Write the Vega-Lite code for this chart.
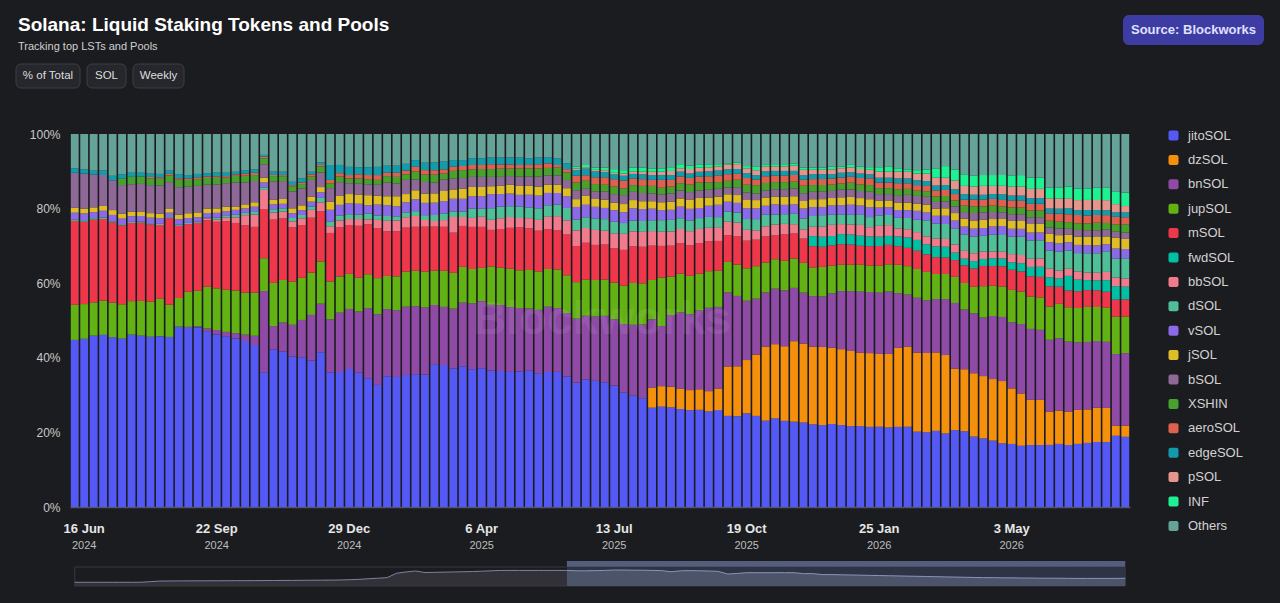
{
  "$schema": "https://vega.github.io/schema/vega-lite/v6.json",
  "width": 1060,
  "height": 373,
  "autosize": {"type": "none"},
  "padding": {"left": 70, "top": 134, "right": 150, "bottom": 96},
  "background": "#1b1c20",
  "title": {
    "text": "Solana: Liquid Staking Tokens and Pools",
    "subtitle": "Tracking top LSTs and Pools",
    "anchor": "start",
    "frame": "group",
    "dx": -52,
    "offset": -37,
    "fontSize": 19,
    "fontWeight": "bold",
    "color": "#ffffff",
    "subtitleFontSize": 11,
    "subtitleColor": "#cfcfcf",
    "subtitlePadding": 6
  },
  "datasets": {
    "seriesOrder": [
      {"series": "jitoSOL", "rank": 1}, {"series": "dzSOL", "rank": 2}, {"series": "bnSOL", "rank": 3},
      {"series": "jupSOL", "rank": 4}, {"series": "mSOL", "rank": 5}, {"series": "fwdSOL", "rank": 6},
      {"series": "bbSOL", "rank": 7}, {"series": "dSOL", "rank": 8}, {"series": "vSOL", "rank": 9},
      {"series": "jSOL", "rank": 10}, {"series": "bSOL", "rank": 11}, {"series": "XSHIN", "rank": 12},
      {"series": "aeroSOL", "rank": 13}, {"series": "edgeSOL", "rank": 14}, {"series": "pSOL", "rank": 15},
      {"series": "INF", "rank": 16}, {"series": "Others", "rank": 17}
    ],
    "weeks": [
      {"week":"2024-06-09","jitoSOL":44.8,"dzSOL":0,"bnSOL":0,"jupSOL":9.4,"mSOL":22.5,"fwdSOL":0,"bbSOL":0,"dSOL":0.4,"vSOL":1.8,"jSOL":1.3,"bSOL":9.4,"XSHIN":0,"aeroSOL":0,"edgeSOL":1.2,"pSOL":0,"INF":0,"Others":9.2,"total":19.5},
      {"week":"2024-06-16","jitoSOL":45.1,"dzSOL":0,"bnSOL":0,"jupSOL":9.3,"mSOL":22.1,"fwdSOL":0,"bbSOL":0,"dSOL":0.4,"vSOL":1.8,"jSOL":1.3,"bSOL":9.4,"XSHIN":0,"aeroSOL":0,"edgeSOL":1.1,"pSOL":0,"INF":0,"Others":9.5,"total":19.5},
      {"week":"2024-06-23","jitoSOL":45.8,"dzSOL":0,"bnSOL":0,"jupSOL":8.9,"mSOL":22.1,"fwdSOL":0,"bbSOL":0,"dSOL":0.4,"vSOL":1.6,"jSOL":1.3,"bSOL":8.8,"XSHIN":0,"aeroSOL":0,"edgeSOL":1.0,"pSOL":0,"INF":0,"Others":9.8,"total":19.5},
      {"week":"2024-06-30","jitoSOL":46.2,"dzSOL":0,"bnSOL":0,"jupSOL":9.2,"mSOL":21.9,"fwdSOL":0,"bbSOL":0,"dSOL":0.4,"vSOL":1.8,"jSOL":1.3,"bSOL":8.3,"XSHIN":0,"aeroSOL":0,"edgeSOL":1.2,"pSOL":0,"INF":0,"Others":9.8,"total":19.6},
      {"week":"2024-07-07","jitoSOL":45.5,"dzSOL":0,"bnSOL":0,"jupSOL":9.3,"mSOL":21.5,"fwdSOL":0,"bbSOL":0,"dSOL":0.3,"vSOL":1.7,"jSOL":1.3,"bSOL":8.0,"XSHIN":0,"aeroSOL":0,"edgeSOL":1.2,"pSOL":0,"INF":0,"Others":11.2,"total":19.6},
      {"week":"2024-07-14","jitoSOL":45.2,"dzSOL":0,"bnSOL":0,"jupSOL":9.2,"mSOL":21.2,"fwdSOL":0,"bbSOL":0,"dSOL":0.3,"vSOL":1.5,"jSOL":1.3,"bSOL":7.7,"XSHIN":1.8,"aeroSOL":0,"edgeSOL":1.1,"pSOL":0,"INF":0,"Others":10.8,"total":19.7},
      {"week":"2024-07-21","jitoSOL":46.3,"dzSOL":0,"bnSOL":0,"jupSOL":9.0,"mSOL":21.0,"fwdSOL":0,"bbSOL":0,"dSOL":0.3,"vSOL":1.5,"jSOL":1.2,"bSOL":7.4,"XSHIN":2.0,"aeroSOL":0,"edgeSOL":1.1,"pSOL":0,"INF":0,"Others":10.4,"total":19.7},
      {"week":"2024-07-28","jitoSOL":46.0,"dzSOL":0,"bnSOL":0,"jupSOL":9.3,"mSOL":21.0,"fwdSOL":0,"bbSOL":0,"dSOL":0.3,"vSOL":1.5,"jSOL":1.2,"bSOL":7.4,"XSHIN":2.0,"aeroSOL":0,"edgeSOL":1.0,"pSOL":0,"INF":0,"Others":10.4,"total":19.8},
      {"week":"2024-08-04","jitoSOL":45.6,"dzSOL":0,"bnSOL":0,"jupSOL":9.4,"mSOL":20.7,"fwdSOL":0,"bbSOL":0,"dSOL":0.3,"vSOL":1.5,"jSOL":1.2,"bSOL":7.5,"XSHIN":1.8,"aeroSOL":0.4,"edgeSOL":0.9,"pSOL":0,"INF":0,"Others":10.6,"total":23},
      {"week":"2024-08-11","jitoSOL":45.8,"dzSOL":0,"bnSOL":0,"jupSOL":10.0,"mSOL":19.8,"fwdSOL":0,"bbSOL":0,"dSOL":0.3,"vSOL":1.5,"jSOL":1.2,"bSOL":7.6,"XSHIN":1.8,"aeroSOL":0.4,"edgeSOL":0.9,"pSOL":0,"INF":0,"Others":10.7,"total":26},
      {"week":"2024-08-18","jitoSOL":45.6,"dzSOL":0,"bnSOL":0,"jupSOL":8.6,"mSOL":23.2,"fwdSOL":0,"bbSOL":0,"dSOL":0.3,"vSOL":1.2,"jSOL":1.0,"bSOL":7.2,"XSHIN":1.8,"aeroSOL":0.4,"edgeSOL":0.9,"pSOL":0,"INF":0,"Others":9.8,"total":26.5},
      {"week":"2024-08-25","jitoSOL":48.5,"dzSOL":0,"bnSOL":0,"jupSOL":7.7,"mSOL":19.4,"fwdSOL":0,"bbSOL":0,"dSOL":0.3,"vSOL":1.5,"jSOL":1.2,"bSOL":7.4,"XSHIN":2.0,"aeroSOL":0.4,"edgeSOL":1.1,"pSOL":0,"INF":0,"Others":10.8,"total":26.7},
      {"week":"2024-09-01","jitoSOL":47.9,"dzSOL":0,"bnSOL":0.3,"jupSOL":9.4,"mSOL":18.1,"fwdSOL":0,"bbSOL":0,"dSOL":0.3,"vSOL":1.3,"jSOL":1.3,"bSOL":7.1,"XSHIN":1.8,"aeroSOL":0.4,"edgeSOL":0.9,"pSOL":0,"INF":0,"Others":11.0,"total":27},
      {"week":"2024-09-08","jitoSOL":48.1,"dzSOL":0,"bnSOL":0.3,"jupSOL":9.5,"mSOL":18.2,"fwdSOL":0,"bbSOL":0,"dSOL":0.3,"vSOL":1.2,"jSOL":1.3,"bSOL":7.1,"XSHIN":1.8,"aeroSOL":0.5,"edgeSOL":0.9,"pSOL":0,"INF":0,"Others":10.7,"total":27.2},
      {"week":"2024-09-15","jitoSOL":47.0,"dzSOL":0,"bnSOL":0.9,"jupSOL":11.2,"mSOL":17.9,"fwdSOL":0,"bbSOL":0.4,"dSOL":0.3,"vSOL":1.2,"jSOL":1.2,"bSOL":6.4,"XSHIN":1.8,"aeroSOL":0.4,"edgeSOL":0.9,"pSOL":0,"INF":0,"Others":10.5,"total":27.4},
      {"week":"2024-09-22","jitoSOL":46.4,"dzSOL":0,"bnSOL":1.2,"jupSOL":11.2,"mSOL":17.9,"fwdSOL":0,"bbSOL":0.6,"dSOL":0.5,"vSOL":1.3,"jSOL":1.2,"bSOL":6.4,"XSHIN":1.8,"aeroSOL":0.4,"edgeSOL":1.0,"pSOL":0,"INF":0,"Others":10.4,"total":27.5},
      {"week":"2024-09-29","jitoSOL":45.8,"dzSOL":0,"bnSOL":1.2,"jupSOL":11.3,"mSOL":18.4,"fwdSOL":0,"bbSOL":1.0,"dSOL":0.6,"vSOL":1.1,"jSOL":1.2,"bSOL":6.3,"XSHIN":1.5,"aeroSOL":0.4,"edgeSOL":0.9,"pSOL":0,"INF":0,"Others":10.4,"total":27.7},
      {"week":"2024-10-06","jitoSOL":45.1,"dzSOL":0,"bnSOL":1.4,"jupSOL":11.4,"mSOL":18.1,"fwdSOL":0,"bbSOL":1.5,"dSOL":0.7,"vSOL":1.3,"jSOL":0.9,"bSOL":6.4,"XSHIN":1.8,"aeroSOL":0.4,"edgeSOL":0.7,"pSOL":0,"INF":0,"Others":10.1,"total":27.9},
      {"week":"2024-10-13","jitoSOL":44.6,"dzSOL":0,"bnSOL":1.7,"jupSOL":11.3,"mSOL":18.1,"fwdSOL":0,"bbSOL":2.7,"dSOL":0.6,"vSOL":1.2,"jSOL":1.1,"bSOL":5.9,"XSHIN":1.8,"aeroSOL":0.6,"edgeSOL":0.9,"pSOL":0,"INF":0,"Others":9.7,"total":28},
      {"week":"2024-10-20","jitoSOL":43.4,"dzSOL":0,"bnSOL":2.5,"jupSOL":11.6,"mSOL":17.6,"fwdSOL":0,"bbSOL":3.3,"dSOL":0.9,"vSOL":1.2,"jSOL":1.2,"bSOL":5.7,"XSHIN":1.6,"aeroSOL":0.6,"edgeSOL":0.9,"pSOL":0,"INF":0,"Others":9.5,"total":28.3},
      {"week":"2024-10-27","jitoSOL":36.1,"dzSOL":0,"bnSOL":21.8,"jupSOL":8.8,"mSOL":13.2,"fwdSOL":0,"bbSOL":5.1,"dSOL":0.7,"vSOL":1.3,"jSOL":1.3,"bSOL":3.6,"XSHIN":1.6,"aeroSOL":0.4,"edgeSOL":0.5,"pSOL":0,"INF":0,"Others":5.6,"total":28.6},
      {"week":"2024-11-03","jitoSOL":42.3,"dzSOL":0,"bnSOL":6.3,"jupSOL":11.6,"mSOL":17.0,"fwdSOL":0,"bbSOL":1.9,"dSOL":0.9,"vSOL":1.3,"jSOL":1.2,"bSOL":4.9,"XSHIN":1.5,"aeroSOL":0.3,"edgeSOL":0.9,"pSOL":0,"INF":0,"Others":10.1,"total":29},
      {"week":"2024-11-10","jitoSOL":41.6,"dzSOL":0,"bnSOL":7.8,"jupSOL":11.4,"mSOL":16.5,"fwdSOL":0,"bbSOL":1.8,"dSOL":0.9,"vSOL":1.2,"jSOL":1.3,"bSOL":4.8,"XSHIN":1.3,"aeroSOL":0.3,"edgeSOL":0.9,"pSOL":0,"INF":0,"Others":10.1,"total":29.3},
      {"week":"2024-11-17","jitoSOL":40.3,"dzSOL":0,"bnSOL":8.5,"jupSOL":11.6,"mSOL":14.5,"fwdSOL":0,"bbSOL":1.6,"dSOL":0.9,"vSOL":1.3,"jSOL":1.3,"bSOL":4.5,"XSHIN":1.3,"aeroSOL":0.4,"edgeSOL":0.9,"pSOL":0,"INF":0,"Others":12.8,"total":29.6},
      {"week":"2024-11-24","jitoSOL":40.1,"dzSOL":0,"bnSOL":10.0,"jupSOL":11.3,"mSOL":14.1,"fwdSOL":0,"bbSOL":1.8,"dSOL":0.9,"vSOL":1.3,"jSOL":1.3,"bSOL":4.5,"XSHIN":1.2,"aeroSOL":0.4,"edgeSOL":1.1,"pSOL":0,"INF":0,"Others":11.9,"total":30},
      {"week":"2024-12-01","jitoSOL":39.2,"dzSOL":0,"bnSOL":12.2,"jupSOL":11.3,"mSOL":14.7,"fwdSOL":0,"bbSOL":2.1,"dSOL":0.9,"vSOL":1.3,"jSOL":1.3,"bSOL":4.5,"XSHIN":0.9,"aeroSOL":0.6,"edgeSOL":0.7,"pSOL":0,"INF":0,"Others":10.1,"total":30.3},
      {"week":"2024-12-08","jitoSOL":41.4,"dzSOL":0,"bnSOL":13.0,"jupSOL":11.3,"mSOL":13.4,"fwdSOL":0,"bbSOL":2.4,"dSOL":1.2,"vSOL":1.5,"jSOL":1.4,"bSOL":3.9,"XSHIN":1.6,"aeroSOL":0.4,"edgeSOL":0.7,"pSOL":0,"INF":0,"Others":7.6,"total":30.6},
      {"week":"2024-12-15","jitoSOL":36.1,"dzSOL":0,"bnSOL":14.2,"jupSOL":10.1,"mSOL":13.0,"fwdSOL":0,"bbSOL":1.8,"dSOL":1.3,"vSOL":3.1,"jSOL":2.2,"bSOL":3.6,"XSHIN":1.3,"aeroSOL":0.9,"edgeSOL":4.0,"pSOL":0,"INF":0,"Others":8.3,"total":31},
      {"week":"2024-12-22","jitoSOL":36.2,"dzSOL":0,"bnSOL":15.9,"jupSOL":9.7,"mSOL":13.2,"fwdSOL":0,"bbSOL":1.8,"dSOL":1.3,"vSOL":2.9,"jSOL":2.4,"bSOL":3.7,"XSHIN":1.5,"aeroSOL":0.9,"edgeSOL":2.2,"pSOL":0,"INF":0,"Others":8.3,"total":31.6},
      {"week":"2024-12-29","jitoSOL":37.0,"dzSOL":0,"bnSOL":16.1,"jupSOL":9.4,"mSOL":13.1,"fwdSOL":0,"bbSOL":1.6,"dSOL":1.3,"vSOL":2.9,"jSOL":2.5,"bSOL":2.9,"XSHIN":1.3,"aeroSOL":0.9,"edgeSOL":2.2,"pSOL":0,"INF":0,"Others":8.8,"total":33},
      {"week":"2025-01-05","jitoSOL":36.0,"dzSOL":0,"bnSOL":16.4,"jupSOL":9.1,"mSOL":13.9,"fwdSOL":0,"bbSOL":1.8,"dSOL":1.2,"vSOL":2.9,"jSOL":2.4,"bSOL":3.1,"XSHIN":1.3,"aeroSOL":1.1,"edgeSOL":1.9,"pSOL":0,"INF":0,"Others":8.9,"total":35},
      {"week":"2025-01-12","jitoSOL":34.5,"dzSOL":0,"bnSOL":18.8,"jupSOL":9.1,"mSOL":13.4,"fwdSOL":0,"bbSOL":1.3,"dSOL":1.6,"vSOL":2.2,"jSOL":2.7,"bSOL":2.9,"XSHIN":1.4,"aeroSOL":1.1,"edgeSOL":2.1,"pSOL":0,"INF":0,"Others":8.9,"total":38},
      {"week":"2025-01-19","jitoSOL":32.7,"dzSOL":0,"bnSOL":18.9,"jupSOL":9.7,"mSOL":13.4,"fwdSOL":0,"bbSOL":2.2,"dSOL":1.2,"vSOL":2.9,"jSOL":2.4,"bSOL":2.9,"XSHIN":1.3,"aeroSOL":1.3,"edgeSOL":2.2,"pSOL":0,"INF":0,"Others":8.8,"total":41},
      {"week":"2025-01-26","jitoSOL":35.1,"dzSOL":0,"bnSOL":18.0,"jupSOL":8.9,"mSOL":12.0,"fwdSOL":0,"bbSOL":2.8,"dSOL":1.3,"vSOL":2.9,"jSOL":2.4,"bSOL":3.7,"XSHIN":1.7,"aeroSOL":0.9,"edgeSOL":1.9,"pSOL":0,"INF":0,"Others":8.5,"total":44},
      {"week":"2025-02-02","jitoSOL":34.9,"dzSOL":0,"bnSOL":17.9,"jupSOL":9.1,"mSOL":12.1,"fwdSOL":0,"bbSOL":2.9,"dSOL":1.1,"vSOL":2.7,"jSOL":2.7,"bSOL":3.4,"XSHIN":1.8,"aeroSOL":1.1,"edgeSOL":1.9,"pSOL":0,"INF":0,"Others":8.5,"total":67},
      {"week":"2025-02-09","jitoSOL":35.4,"dzSOL":0,"bnSOL":18.3,"jupSOL":9.4,"mSOL":11.8,"fwdSOL":0,"bbSOL":2.8,"dSOL":1.3,"vSOL":2.7,"jSOL":2.2,"bSOL":3.8,"XSHIN":1.5,"aeroSOL":1.0,"edgeSOL":1.8,"pSOL":0,"INF":0,"Others":8.0,"total":74},
      {"week":"2025-02-16","jitoSOL":35.6,"dzSOL":0,"bnSOL":18.3,"jupSOL":9.5,"mSOL":11.8,"fwdSOL":0,"bbSOL":2.9,"dSOL":1.3,"vSOL":3.2,"jSOL":2.4,"bSOL":2.9,"XSHIN":2.1,"aeroSOL":1.3,"edgeSOL":1.8,"pSOL":0,"INF":0,"Others":7.0,"total":79},
      {"week":"2025-02-23","jitoSOL":35.6,"dzSOL":0,"bnSOL":18.0,"jupSOL":9.6,"mSOL":12.1,"fwdSOL":0,"bbSOL":1.8,"dSOL":1.3,"vSOL":3.3,"jSOL":2.5,"bSOL":3.1,"XSHIN":2.0,"aeroSOL":1.2,"edgeSOL":2.0,"pSOL":0,"INF":0,"Others":7.7,"total":71},
      {"week":"2025-03-02","jitoSOL":38.2,"dzSOL":0,"bnSOL":15.9,"jupSOL":9.2,"mSOL":11.8,"fwdSOL":0,"bbSOL":1.5,"dSOL":1.6,"vSOL":3.3,"jSOL":2.5,"bSOL":2.9,"XSHIN":2.1,"aeroSOL":1.2,"edgeSOL":2.1,"pSOL":0,"INF":0,"Others":7.6,"total":72},
      {"week":"2025-03-09","jitoSOL":38.1,"dzSOL":0,"bnSOL":15.6,"jupSOL":9.7,"mSOL":11.8,"fwdSOL":0,"bbSOL":1.8,"dSOL":1.8,"vSOL":3.3,"jSOL":2.7,"bSOL":3.1,"XSHIN":1.6,"aeroSOL":1.1,"edgeSOL":2.1,"pSOL":0,"INF":0,"Others":7.4,"total":73},
      {"week":"2025-03-16","jitoSOL":37.2,"dzSOL":0,"bnSOL":16.1,"jupSOL":9.6,"mSOL":10.8,"fwdSOL":0,"bbSOL":4.2,"dSOL":1.5,"vSOL":3.4,"jSOL":2.5,"bSOL":2.9,"XSHIN":2.1,"aeroSOL":1.1,"edgeSOL":1.8,"pSOL":0,"INF":0,"Others":7.0,"total":74},
      {"week":"2025-03-23","jitoSOL":37.8,"dzSOL":0,"bnSOL":17.1,"jupSOL":9.6,"mSOL":11.0,"fwdSOL":0,"bbSOL":2.4,"dSOL":1.5,"vSOL":3.4,"jSOL":2.7,"bSOL":2.9,"XSHIN":2.1,"aeroSOL":1.1,"edgeSOL":1.6,"pSOL":0,"INF":0,"Others":7.0,"total":75},
      {"week":"2025-03-30","jitoSOL":36.9,"dzSOL":0,"bnSOL":17.7,"jupSOL":9.2,"mSOL":11.3,"fwdSOL":0,"bbSOL":2.4,"dSOL":2.5,"vSOL":3.3,"jSOL":2.5,"bSOL":2.7,"XSHIN":2.0,"aeroSOL":1.2,"edgeSOL":1.8,"pSOL":0,"INF":0,"Others":6.5,"total":76},
      {"week":"2025-04-06","jitoSOL":37.2,"dzSOL":0,"bnSOL":18.0,"jupSOL":8.9,"mSOL":11.0,"fwdSOL":0,"bbSOL":2.7,"dSOL":2.2,"vSOL":3.3,"jSOL":2.5,"bSOL":2.7,"XSHIN":2.1,"aeroSOL":1.1,"edgeSOL":1.8,"pSOL":0,"INF":0,"Others":6.5,"total":78},
      {"week":"2025-04-13","jitoSOL":36.6,"dzSOL":0,"bnSOL":17.6,"jupSOL":10.3,"mSOL":9.8,"fwdSOL":0,"bbSOL":2.7,"dSOL":3.1,"vSOL":3.8,"jSOL":2.1,"bSOL":2.5,"XSHIN":2.1,"aeroSOL":1.3,"edgeSOL":1.8,"pSOL":0,"INF":0,"Others":6.3,"total":80},
      {"week":"2025-04-20","jitoSOL":36.5,"dzSOL":0,"bnSOL":17.7,"jupSOL":10.0,"mSOL":10.4,"fwdSOL":0,"bbSOL":2.9,"dSOL":3.1,"vSOL":3.4,"jSOL":2.2,"bSOL":2.4,"XSHIN":2.2,"aeroSOL":1.1,"edgeSOL":1.9,"pSOL":0,"INF":0,"Others":6.3,"total":82},
      {"week":"2025-04-27","jitoSOL":36.3,"dzSOL":0,"bnSOL":17.4,"jupSOL":10.3,"mSOL":11.0,"fwdSOL":0,"bbSOL":2.9,"dSOL":2.9,"vSOL":3.4,"jSOL":2.4,"bSOL":2.3,"XSHIN":2.0,"aeroSOL":1.1,"edgeSOL":1.9,"pSOL":0,"INF":0,"Others":6.3,"total":82},
      {"week":"2025-05-04","jitoSOL":36.3,"dzSOL":0,"bnSOL":17.0,"jupSOL":10.1,"mSOL":11.5,"fwdSOL":0,"bbSOL":2.5,"dSOL":3.1,"vSOL":3.1,"jSOL":2.4,"bSOL":2.5,"XSHIN":2.2,"aeroSOL":0.9,"edgeSOL":2.0,"pSOL":0,"INF":0,"Others":6.3,"total":82},
      {"week":"2025-05-11","jitoSOL":36.6,"dzSOL":0,"bnSOL":16.7,"jupSOL":10.3,"mSOL":11.2,"fwdSOL":0,"bbSOL":2.7,"dSOL":2.9,"vSOL":3.4,"jSOL":2.4,"bSOL":2.5,"XSHIN":2.2,"aeroSOL":0.9,"edgeSOL":1.8,"pSOL":0,"INF":0,"Others":6.5,"total":82},
      {"week":"2025-05-18","jitoSOL":35.8,"dzSOL":0,"bnSOL":17.0,"jupSOL":10.3,"mSOL":10.9,"fwdSOL":0,"bbSOL":2.9,"dSOL":3.1,"vSOL":3.4,"jSOL":2.4,"bSOL":2.7,"XSHIN":2.2,"aeroSOL":1.1,"edgeSOL":1.8,"pSOL":0,"INF":0,"Others":6.3,"total":82},
      {"week":"2025-05-25","jitoSOL":36.2,"dzSOL":0,"bnSOL":17.5,"jupSOL":10.1,"mSOL":10.7,"fwdSOL":0,"bbSOL":3.3,"dSOL":3.1,"vSOL":3.3,"jSOL":2.2,"bSOL":2.5,"XSHIN":2.0,"aeroSOL":1.2,"edgeSOL":1.6,"pSOL":0,"INF":0,"Others":6.3,"total":82},
      {"week":"2025-06-01","jitoSOL":36.2,"dzSOL":0,"bnSOL":17.1,"jupSOL":10.3,"mSOL":10.5,"fwdSOL":0,"bbSOL":3.8,"dSOL":3.1,"vSOL":3.1,"jSOL":2.2,"bSOL":2.5,"XSHIN":2.1,"aeroSOL":0.7,"edgeSOL":1.8,"pSOL":0,"INF":0,"Others":6.5,"total":82},
      {"week":"2025-06-08","jitoSOL":34.9,"dzSOL":0,"bnSOL":17.0,"jupSOL":10.1,"mSOL":10.9,"fwdSOL":0,"bbSOL":3.8,"dSOL":3.3,"vSOL":3.1,"jSOL":2.2,"bSOL":2.2,"XSHIN":2.0,"aeroSOL":0.9,"edgeSOL":1.6,"pSOL":0,"INF":0,"Others":7.8,"total":82},
      {"week":"2025-06-15","jitoSOL":33.4,"dzSOL":0,"bnSOL":17.2,"jupSOL":9.8,"mSOL":9.7,"fwdSOL":0,"bbSOL":4.2,"dSOL":2.9,"vSOL":3.4,"jSOL":2.1,"bSOL":2.4,"XSHIN":2.1,"aeroSOL":1.8,"edgeSOL":1.5,"pSOL":0.4,"INF":0.5,"Others":8.8,"total":80},
      {"week":"2025-06-22","jitoSOL":34.0,"dzSOL":0,"bnSOL":17.0,"jupSOL":9.6,"mSOL":9.9,"fwdSOL":0,"bbSOL":3.9,"dSOL":2.9,"vSOL":3.3,"jSOL":2.5,"bSOL":1.8,"XSHIN":2.1,"aeroSOL":1.5,"edgeSOL":1.8,"pSOL":0.3,"INF":0.6,"Others":8.3,"total":80},
      {"week":"2025-06-29","jitoSOL":33.8,"dzSOL":0,"bnSOL":17.2,"jupSOL":9.8,"mSOL":9.4,"fwdSOL":0,"bbSOL":4.0,"dSOL":3.1,"vSOL":3.1,"jSOL":2.1,"bSOL":2.0,"XSHIN":2.0,"aeroSOL":1.8,"edgeSOL":1.6,"pSOL":0.4,"INF":0.6,"Others":9.0,"total":81},
      {"week":"2025-07-06","jitoSOL":33.4,"dzSOL":0,"bnSOL":17.8,"jupSOL":9.7,"mSOL":9.4,"fwdSOL":0,"bbSOL":3.7,"dSOL":3.1,"vSOL":3.0,"jSOL":2.2,"bSOL":2.2,"XSHIN":1.8,"aeroSOL":2.0,"edgeSOL":1.4,"pSOL":0.5,"INF":0.7,"Others":9.0,"total":82},
      {"week":"2025-07-13","jitoSOL":32.5,"dzSOL":0,"bnSOL":17.8,"jupSOL":9.8,"mSOL":9.2,"fwdSOL":0,"bbSOL":4.0,"dSOL":3.1,"vSOL":3.1,"jSOL":2.0,"bSOL":2.3,"XSHIN":2.0,"aeroSOL":2.0,"edgeSOL":1.3,"pSOL":0.4,"INF":1.0,"Others":9.4,"total":84},
      {"week":"2025-07-20","jitoSOL":30.7,"dzSOL":0,"bnSOL":18.4,"jupSOL":10.3,"mSOL":9.6,"fwdSOL":0,"bbSOL":4.3,"dSOL":2.9,"vSOL":2.9,"jSOL":2.2,"bSOL":2.4,"XSHIN":1.8,"aeroSOL":2.1,"edgeSOL":1.3,"pSOL":0.6,"INF":0.9,"Others":9.7,"total":84},
      {"week":"2025-07-27","jitoSOL":29.8,"dzSOL":0,"bnSOL":19.0,"jupSOL":11.2,"mSOL":9.8,"fwdSOL":0,"bbSOL":4.0,"dSOL":2.9,"vSOL":3.3,"jSOL":2.2,"bSOL":2.2,"XSHIN":1.8,"aeroSOL":1.8,"edgeSOL":1.2,"pSOL":0.6,"INF":1.1,"Others":9.0,"total":83},
      {"week":"2025-08-03","jitoSOL":29.1,"dzSOL":0,"bnSOL":19.8,"jupSOL":11.0,"mSOL":9.8,"fwdSOL":0,"bbSOL":4.0,"dSOL":2.9,"vSOL":3.2,"jSOL":2.1,"bSOL":2.2,"XSHIN":1.9,"aeroSOL":1.8,"edgeSOL":1.3,"pSOL":0.7,"INF":1.1,"Others":9.0,"total":83},
      {"week":"2025-08-10","jitoSOL":26.6,"dzSOL":5.4,"bnSOL":18.3,"jupSOL":10.5,"mSOL":9.2,"fwdSOL":0,"bbSOL":3.9,"dSOL":2.9,"vSOL":3.1,"jSOL":2.0,"bSOL":2.1,"XSHIN":2.0,"aeroSOL":1.6,"edgeSOL":1.3,"pSOL":0.9,"INF":0.9,"Others":9.2,"total":82},
      {"week":"2025-08-17","jitoSOL":26.9,"dzSOL":5.5,"bnSOL":16.1,"jupSOL":13.0,"mSOL":8.5,"fwdSOL":0,"bbSOL":3.8,"dSOL":3.1,"vSOL":2.7,"jSOL":2.1,"bSOL":2.1,"XSHIN":1.8,"aeroSOL":2.1,"edgeSOL":1.3,"pSOL":0.9,"INF":0.9,"Others":9.2,"total":81},
      {"week":"2025-08-24","jitoSOL":26.7,"dzSOL":5.5,"bnSOL":19.2,"jupSOL":10.3,"mSOL":8.3,"fwdSOL":0,"bbSOL":3.8,"dSOL":3.1,"vSOL":2.7,"jSOL":2.2,"bSOL":2.2,"XSHIN":1.8,"aeroSOL":1.8,"edgeSOL":1.3,"pSOL":1.1,"INF":1.0,"Others":8.9,"total":75},
      {"week":"2025-08-31","jitoSOL":26.3,"dzSOL":5.4,"bnSOL":20.5,"jupSOL":10.4,"mSOL":8.2,"fwdSOL":0,"bbSOL":3.8,"dSOL":2.9,"vSOL":3.1,"jSOL":2.2,"bSOL":2.1,"XSHIN":2.0,"aeroSOL":1.8,"edgeSOL":1.3,"pSOL":0.9,"INF":1.1,"Others":8.1,"total":80},
      {"week":"2025-09-07","jitoSOL":26.0,"dzSOL":5.4,"bnSOL":20.4,"jupSOL":10.3,"mSOL":8.2,"fwdSOL":0,"bbSOL":3.8,"dSOL":2.9,"vSOL":3.1,"jSOL":2.5,"bSOL":2.0,"XSHIN":2.0,"aeroSOL":1.8,"edgeSOL":1.2,"pSOL":1.2,"INF":0.9,"Others":8.5,"total":81},
      {"week":"2025-09-14","jitoSOL":26.0,"dzSOL":5.5,"bnSOL":21.1,"jupSOL":9.8,"mSOL":8.2,"fwdSOL":0,"bbSOL":3.8,"dSOL":2.9,"vSOL":2.7,"jSOL":2.7,"bSOL":2.0,"XSHIN":2.1,"aeroSOL":1.6,"edgeSOL":1.3,"pSOL":1.1,"INF":0.9,"Others":8.1,"total":80},
      {"week":"2025-09-21","jitoSOL":25.6,"dzSOL":5.4,"bnSOL":22.3,"jupSOL":9.8,"mSOL":8.0,"fwdSOL":0,"bbSOL":3.6,"dSOL":2.9,"vSOL":3.0,"jSOL":2.2,"bSOL":2.1,"XSHIN":2.0,"aeroSOL":1.6,"edgeSOL":1.3,"pSOL":1.1,"INF":0.8,"Others":8.1,"total":79},
      {"week":"2025-09-28","jitoSOL":26.0,"dzSOL":5.8,"bnSOL":21.9,"jupSOL":9.7,"mSOL":8.0,"fwdSOL":0,"bbSOL":3.7,"dSOL":2.7,"vSOL":3.3,"jSOL":2.2,"bSOL":2.1,"XSHIN":1.8,"aeroSOL":1.8,"edgeSOL":1.3,"pSOL":1.1,"INF":0.6,"Others":8.1,"total":77},
      {"week":"2025-10-05","jitoSOL":24.5,"dzSOL":13.3,"bnSOL":19.9,"jupSOL":8.2,"mSOL":7.2,"fwdSOL":0,"bbSOL":3.6,"dSOL":2.7,"vSOL":2.7,"jSOL":2.0,"bSOL":1.8,"XSHIN":1.8,"aeroSOL":1.8,"edgeSOL":1.3,"pSOL":1.3,"INF":0.3,"Others":7.9,"total":63},
      {"week":"2025-10-12","jitoSOL":24.4,"dzSOL":13.4,"bnSOL":18.9,"jupSOL":8.4,"mSOL":7.6,"fwdSOL":0,"bbSOL":3.7,"dSOL":2.7,"vSOL":2.6,"jSOL":2.1,"bSOL":2.1,"XSHIN":2.0,"aeroSOL":1.6,"edgeSOL":1.3,"pSOL":1.3,"INF":0.4,"Others":7.7,"total":66},
      {"week":"2025-10-19","jitoSOL":25.1,"dzSOL":14.3,"bnSOL":15.9,"jupSOL":8.7,"mSOL":7.4,"fwdSOL":0,"bbSOL":2.9,"dSOL":2.9,"vSOL":2.9,"jSOL":2.2,"bSOL":2.0,"XSHIN":2.1,"aeroSOL":1.8,"edgeSOL":1.3,"pSOL":1.3,"INF":0.6,"Others":8.6,"total":70},
      {"week":"2025-10-26","jitoSOL":24.4,"dzSOL":16.4,"bnSOL":15.0,"jupSOL":8.7,"mSOL":7.1,"fwdSOL":0,"bbSOL":2.5,"dSOL":3.0,"vSOL":2.9,"jSOL":2.2,"bSOL":1.8,"XSHIN":2.2,"aeroSOL":1.5,"edgeSOL":1.2,"pSOL":1.3,"INF":0.9,"Others":8.8,"total":70},
      {"week":"2025-11-02","jitoSOL":23.1,"dzSOL":19.8,"bnSOL":14.5,"jupSOL":8.0,"mSOL":7.0,"fwdSOL":0,"bbSOL":2.7,"dSOL":3.1,"vSOL":2.4,"jSOL":2.2,"bSOL":1.9,"XSHIN":2.0,"aeroSOL":1.8,"edgeSOL":1.3,"pSOL":1.3,"INF":0.6,"Others":8.1,"total":70},
      {"week":"2025-11-09","jitoSOL":23.8,"dzSOL":19.9,"bnSOL":14.9,"jupSOL":7.9,"mSOL":6.4,"fwdSOL":0,"bbSOL":2.9,"dSOL":2.7,"vSOL":2.7,"jSOL":2.1,"bSOL":2.0,"XSHIN":1.9,"aeroSOL":1.7,"edgeSOL":1.3,"pSOL":1.2,"INF":0.6,"Others":8.1,"total":70},
      {"week":"2025-11-16","jitoSOL":23.1,"dzSOL":20.0,"bnSOL":15.0,"jupSOL":7.9,"mSOL":7.1,"fwdSOL":0,"bbSOL":2.8,"dSOL":2.6,"vSOL":2.5,"jSOL":2.2,"bSOL":2.0,"XSHIN":1.9,"aeroSOL":1.7,"edgeSOL":1.3,"pSOL":1.2,"INF":0.6,"Others":8.1,"total":70},
      {"week":"2025-11-23","jitoSOL":22.9,"dzSOL":21.6,"bnSOL":14.3,"jupSOL":7.9,"mSOL":6.7,"fwdSOL":0,"bbSOL":2.5,"dSOL":2.9,"vSOL":2.4,"jSOL":2.2,"bSOL":2.1,"XSHIN":1.8,"aeroSOL":1.8,"edgeSOL":1.1,"pSOL":1.4,"INF":0.6,"Others":7.9,"total":70},
      {"week":"2025-11-30","jitoSOL":22.7,"dzSOL":21.2,"bnSOL":13.7,"jupSOL":8.0,"mSOL":6.5,"fwdSOL":0,"bbSOL":2.5,"dSOL":2.9,"vSOL":2.7,"jSOL":2.0,"bSOL":2.1,"XSHIN":2.0,"aeroSOL":1.6,"edgeSOL":1.2,"pSOL":1.5,"INF":0.6,"Others":9.0,"total":65},
      {"week":"2025-12-07","jitoSOL":22.2,"dzSOL":20.8,"bnSOL":13.6,"jupSOL":7.7,"mSOL":5.7,"fwdSOL":2.7,"bbSOL":2.5,"dSOL":2.9,"vSOL":2.4,"jSOL":2.1,"bSOL":2.0,"XSHIN":1.8,"aeroSOL":1.6,"edgeSOL":1.3,"pSOL":1.2,"INF":0.6,"Others":9.0,"total":65},
      {"week":"2025-12-14","jitoSOL":22.0,"dzSOL":21.0,"bnSOL":13.6,"jupSOL":7.9,"mSOL":5.4,"fwdSOL":2.7,"bbSOL":2.7,"dSOL":3.1,"vSOL":2.2,"jSOL":2.1,"bSOL":2.0,"XSHIN":1.8,"aeroSOL":1.6,"edgeSOL":1.3,"pSOL":1.2,"INF":0.6,"Others":9.0,"total":60},
      {"week":"2025-12-21","jitoSOL":22.3,"dzSOL":20.5,"bnSOL":14.6,"jupSOL":7.4,"mSOL":5.5,"fwdSOL":2.5,"bbSOL":3.0,"dSOL":2.7,"vSOL":2.5,"jSOL":2.0,"bSOL":1.9,"XSHIN":1.7,"aeroSOL":1.6,"edgeSOL":1.2,"pSOL":1.3,"INF":0.7,"Others":8.8,"total":60},
      {"week":"2025-12-28","jitoSOL":22.0,"dzSOL":20.4,"bnSOL":15.6,"jupSOL":7.1,"mSOL":5.5,"fwdSOL":2.7,"bbSOL":2.7,"dSOL":2.6,"vSOL":2.5,"jSOL":2.1,"bSOL":2.1,"XSHIN":1.6,"aeroSOL":1.6,"edgeSOL":1.3,"pSOL":1.2,"INF":0.4,"Others":8.8,"total":59},
      {"week":"2026-01-04","jitoSOL":21.7,"dzSOL":20.2,"bnSOL":16.1,"jupSOL":7.1,"mSOL":5.4,"fwdSOL":2.7,"bbSOL":2.7,"dSOL":2.6,"vSOL":2.7,"jSOL":2.1,"bSOL":2.0,"XSHIN":1.8,"aeroSOL":1.6,"edgeSOL":1.2,"pSOL":1.3,"INF":0.7,"Others":8.3,"total":58},
      {"week":"2026-01-11","jitoSOL":21.7,"dzSOL":19.7,"bnSOL":16.4,"jupSOL":7.2,"mSOL":5.1,"fwdSOL":2.7,"bbSOL":2.9,"dSOL":2.7,"vSOL":2.5,"jSOL":2.0,"bSOL":1.9,"XSHIN":1.8,"aeroSOL":1.7,"edgeSOL":1.2,"pSOL":1.2,"INF":0.6,"Others":8.8,"total":57},
      {"week":"2026-01-18","jitoSOL":21.5,"dzSOL":19.8,"bnSOL":16.4,"jupSOL":7.1,"mSOL":5.2,"fwdSOL":2.6,"bbSOL":2.5,"dSOL":2.7,"vSOL":2.7,"jSOL":2.1,"bSOL":2.0,"XSHIN":1.8,"aeroSOL":1.8,"edgeSOL":1.1,"pSOL":1.2,"INF":0.7,"Others":8.9,"total":56},
      {"week":"2026-01-25","jitoSOL":21.5,"dzSOL":19.5,"bnSOL":16.4,"jupSOL":7.2,"mSOL":5.3,"fwdSOL":2.5,"bbSOL":2.9,"dSOL":2.8,"vSOL":2.1,"jSOL":1.8,"bSOL":1.8,"XSHIN":1.6,"aeroSOL":1.5,"edgeSOL":1.3,"pSOL":1.6,"INF":1.2,"Others":8.9,"total":55},
      {"week":"2026-02-01","jitoSOL":21.3,"dzSOL":19.7,"bnSOL":16.7,"jupSOL":7.3,"mSOL":5.2,"fwdSOL":2.4,"bbSOL":2.9,"dSOL":2.7,"vSOL":2.1,"jSOL":1.8,"bSOL":1.7,"XSHIN":1.6,"aeroSOL":1.5,"edgeSOL":1.3,"pSOL":1.6,"INF":1.3,"Others":8.8,"total":54},
      {"week":"2026-02-08","jitoSOL":21.5,"dzSOL":21.2,"bnSOL":14.7,"jupSOL":7.6,"mSOL":5.0,"fwdSOL":2.6,"bbSOL":2.1,"dSOL":2.9,"vSOL":2.1,"jSOL":2.0,"bSOL":1.8,"XSHIN":1.8,"aeroSOL":1.6,"edgeSOL":1.3,"pSOL":1.8,"INF":0.9,"Others":9.2,"total":53},
      {"week":"2026-02-15","jitoSOL":21.5,"dzSOL":21.4,"bnSOL":14.0,"jupSOL":7.6,"mSOL":4.9,"fwdSOL":2.8,"bbSOL":2.2,"dSOL":3.0,"vSOL":2.1,"jSOL":2.0,"bSOL":2.1,"XSHIN":1.6,"aeroSOL":1.5,"edgeSOL":1.3,"pSOL":1.8,"INF":0.6,"Others":9.5,"total":52},
      {"week":"2026-02-22","jitoSOL":20.2,"dzSOL":21.2,"bnSOL":14.7,"jupSOL":7.7,"mSOL":4.9,"fwdSOL":2.9,"bbSOL":2.1,"dSOL":3.3,"vSOL":2.4,"jSOL":1.9,"bSOL":2.1,"XSHIN":1.4,"aeroSOL":1.5,"edgeSOL":1.3,"pSOL":1.8,"INF":0.9,"Others":9.7,"total":51},
      {"week":"2026-03-01","jitoSOL":20.0,"dzSOL":21.2,"bnSOL":14.1,"jupSOL":7.6,"mSOL":4.7,"fwdSOL":2.7,"bbSOL":2.1,"dSOL":4.3,"vSOL":2.1,"jSOL":2.1,"bSOL":2.1,"XSHIN":1.5,"aeroSOL":1.4,"edgeSOL":1.3,"pSOL":2.0,"INF":1.1,"Others":9.5,"total":50},
      {"week":"2026-03-08","jitoSOL":20.4,"dzSOL":21.0,"bnSOL":14.3,"jupSOL":6.7,"mSOL":4.5,"fwdSOL":2.9,"bbSOL":2.1,"dSOL":4.0,"vSOL":2.1,"jSOL":1.9,"bSOL":1.8,"XSHIN":1.5,"aeroSOL":1.6,"edgeSOL":1.3,"pSOL":2.1,"INF":2.5,"Others":9.2,"total":49},
      {"week":"2026-03-15","jitoSOL":19.7,"dzSOL":21.0,"bnSOL":15.0,"jupSOL":6.7,"mSOL":4.4,"fwdSOL":2.9,"bbSOL":2.1,"dSOL":4.0,"vSOL":2.2,"jSOL":2.0,"bSOL":1.8,"XSHIN":1.5,"aeroSOL":1.6,"edgeSOL":1.3,"pSOL":2.0,"INF":3.1,"Others":8.6,"total":48},
      {"week":"2026-03-22","jitoSOL":20.6,"dzSOL":16.5,"bnSOL":17.6,"jupSOL":7.0,"mSOL":4.5,"fwdSOL":2.0,"bbSOL":2.2,"dSOL":4.3,"vSOL":2.1,"jSOL":2.0,"bSOL":1.8,"XSHIN":1.6,"aeroSOL":1.7,"edgeSOL":1.3,"pSOL":2.3,"INF":3.0,"Others":9.5,"total":47},
      {"week":"2026-03-29","jitoSOL":20.3,"dzSOL":16.6,"bnSOL":16.0,"jupSOL":7.1,"mSOL":4.7,"fwdSOL":1.8,"bbSOL":2.1,"dSOL":4.4,"vSOL":2.1,"jSOL":2.1,"bSOL":1.8,"XSHIN":1.7,"aeroSOL":1.6,"edgeSOL":1.5,"pSOL":2.2,"INF":3.1,"Others":10.8,"total":46},
      {"week":"2026-04-05","jitoSOL":18.9,"dzSOL":17.0,"bnSOL":16.1,"jupSOL":7.1,"mSOL":4.9,"fwdSOL":2.0,"bbSOL":2.1,"dSOL":4.5,"vSOL":2.1,"jSOL":2.2,"bSOL":2.0,"XSHIN":1.8,"aeroSOL":1.8,"edgeSOL":1.3,"pSOL":2.2,"INF":2.9,"Others":11.2,"total":45},
      {"week":"2026-04-12","jitoSOL":18.4,"dzSOL":16.7,"bnSOL":15.7,"jupSOL":8.4,"mSOL":5.4,"fwdSOL":1.9,"bbSOL":2.0,"dSOL":4.2,"vSOL":2.1,"jSOL":2.2,"bSOL":2.0,"XSHIN":1.6,"aeroSOL":1.8,"edgeSOL":1.3,"pSOL":2.4,"INF":2.9,"Others":11.0,"total":44},
      {"week":"2026-04-19","jitoSOL":17.8,"dzSOL":16.5,"bnSOL":16.9,"jupSOL":8.1,"mSOL":5.3,"fwdSOL":2.1,"bbSOL":1.8,"dSOL":4.5,"vSOL":2.2,"jSOL":2.0,"bSOL":1.9,"XSHIN":1.7,"aeroSOL":1.8,"edgeSOL":1.3,"pSOL":2.2,"INF":2.9,"Others":11.0,"total":44},
      {"week":"2026-04-26","jitoSOL":17.1,"dzSOL":16.7,"bnSOL":17.2,"jupSOL":8.2,"mSOL":5.4,"fwdSOL":2.1,"bbSOL":1.8,"dSOL":4.5,"vSOL":2.4,"jSOL":1.9,"bSOL":1.8,"XSHIN":1.5,"aeroSOL":1.8,"edgeSOL":1.5,"pSOL":2.3,"INF":2.9,"Others":11.0,"total":43},
      {"week":"2026-05-03","jitoSOL":16.9,"dzSOL":14.9,"bnSOL":17.7,"jupSOL":8.7,"mSOL":5.4,"fwdSOL":2.0,"bbSOL":2.2,"dSOL":4.7,"vSOL":2.1,"jSOL":2.1,"bSOL":1.8,"XSHIN":1.8,"aeroSOL":1.9,"edgeSOL":1.3,"pSOL":2.4,"INF":2.9,"Others":11.2,"total":43},
      {"week":"2026-05-10","jitoSOL":16.4,"dzSOL":14.0,"bnSOL":18.6,"jupSOL":8.7,"mSOL":5.4,"fwdSOL":2.2,"bbSOL":2.2,"dSOL":4.9,"vSOL":2.1,"jSOL":2.1,"bSOL":1.8,"XSHIN":1.8,"aeroSOL":1.8,"edgeSOL":1.4,"pSOL":2.4,"INF":3.1,"Others":11.0,"total":42},
      {"week":"2026-05-17","jitoSOL":16.6,"dzSOL":12.1,"bnSOL":19.0,"jupSOL":8.7,"mSOL":5.4,"fwdSOL":2.5,"bbSOL":2.2,"dSOL":4.9,"vSOL":2.1,"jSOL":2.3,"bSOL":1.8,"XSHIN":1.8,"aeroSOL":1.8,"edgeSOL":1.5,"pSOL":2.5,"INF":3.0,"Others":11.7,"total":42},
      {"week":"2026-05-24","jitoSOL":16.6,"dzSOL":12.1,"bnSOL":18.8,"jupSOL":8.7,"mSOL":5.5,"fwdSOL":2.7,"bbSOL":2.2,"dSOL":4.9,"vSOL":2.1,"jSOL":2.3,"bSOL":1.8,"XSHIN":1.8,"aeroSOL":1.8,"edgeSOL":1.5,"pSOL":2.5,"INF":3.0,"Others":11.7,"total":41},
      {"week":"2026-05-31","jitoSOL":16.6,"dzSOL":8.9,"bnSOL":19.2,"jupSOL":8.9,"mSOL":5.4,"fwdSOL":2.4,"bbSOL":2.3,"dSOL":4.8,"vSOL":2.3,"jSOL":2.2,"bSOL":1.7,"XSHIN":1.8,"aeroSOL":2.0,"edgeSOL":1.3,"pSOL":2.7,"INF":2.9,"Others":14.3,"total":41},
      {"week":"2026-06-07","jitoSOL":16.9,"dzSOL":8.9,"bnSOL":19.4,"jupSOL":9.2,"mSOL":4.6,"fwdSOL":2.2,"bbSOL":2.1,"dSOL":5.1,"vSOL":2.2,"jSOL":2.2,"bSOL":1.8,"XSHIN":1.8,"aeroSOL":2.2,"edgeSOL":1.3,"pSOL":2.7,"INF":2.9,"Others":14.4,"total":41},
      {"week":"2026-06-14","jitoSOL":16.6,"dzSOL":8.9,"bnSOL":18.8,"jupSOL":9.2,"mSOL":4.5,"fwdSOL":3.9,"bbSOL":1.9,"dSOL":4.9,"vSOL":2.2,"jSOL":2.0,"bSOL":1.6,"XSHIN":1.8,"aeroSOL":2.1,"edgeSOL":1.6,"pSOL":2.7,"INF":3.1,"Others":14.1,"total":40},
      {"week":"2026-06-21","jitoSOL":16.9,"dzSOL":9.1,"bnSOL":18.1,"jupSOL":9.2,"mSOL":4.5,"fwdSOL":3.1,"bbSOL":2.2,"dSOL":4.9,"vSOL":2.2,"jSOL":2.2,"bSOL":1.8,"XSHIN":1.8,"aeroSOL":2.2,"edgeSOL":1.3,"pSOL":2.7,"INF":3.1,"Others":14.6,"total":40},
      {"week":"2026-06-28","jitoSOL":17.2,"dzSOL":9.0,"bnSOL":18.1,"jupSOL":9.4,"mSOL":4.5,"fwdSOL":2.7,"bbSOL":2.0,"dSOL":5.2,"vSOL":2.2,"jSOL":2.2,"bSOL":1.8,"XSHIN":1.8,"aeroSOL":2.1,"edgeSOL":1.5,"pSOL":2.7,"INF":3.1,"Others":14.6,"total":40},
      {"week":"2026-07-05","jitoSOL":17.4,"dzSOL":9.2,"bnSOL":17.9,"jupSOL":9.1,"mSOL":4.5,"fwdSOL":2.7,"bbSOL":2.0,"dSOL":5.2,"vSOL":2.2,"jSOL":2.2,"bSOL":1.8,"XSHIN":2.0,"aeroSOL":2.1,"edgeSOL":1.3,"pSOL":2.7,"INF":3.3,"Others":14.4,"total":40},
      {"week":"2026-07-12","jitoSOL":17.4,"dzSOL":9.1,"bnSOL":17.7,"jupSOL":9.1,"mSOL":4.3,"fwdSOL":3.1,"bbSOL":2.2,"dSOL":5.5,"vSOL":1.9,"jSOL":2.1,"bSOL":1.8,"XSHIN":1.8,"aeroSOL":2.1,"edgeSOL":1.3,"pSOL":2.7,"INF":3.3,"Others":14.4,"total":40},
      {"week":"2026-07-19","jitoSOL":19.1,"dzSOL":2.7,"bnSOL":19.2,"jupSOL":10.0,"mSOL":4.6,"fwdSOL":3.6,"bbSOL":2.3,"dSOL":5.1,"vSOL":2.7,"jSOL":2.9,"bSOL":1.6,"XSHIN":2.0,"aeroSOL":2.0,"edgeSOL":1.2,"pSOL":2.2,"INF":3.3,"Others":15.5,"total":40},
      {"week":"2026-07-26","jitoSOL":18.8,"dzSOL":3.0,"bnSOL":19.4,"jupSOL":9.8,"mSOL":4.6,"fwdSOL":3.4,"bbSOL":2.2,"dSOL":5.4,"vSOL":2.5,"jSOL":2.7,"bSOL":1.7,"XSHIN":2.2,"aeroSOL":1.9,"edgeSOL":1.3,"pSOL":1.7,"INF":3.6,"Others":15.7,"total":41}
    ]
  },
  "layer": [
    {
      "data": {"name": "weeks"},
      "transform": [
        {"fold": ["jitoSOL", "dzSOL", "bnSOL", "jupSOL", "mSOL", "fwdSOL", "bbSOL", "dSOL", "vSOL", "jSOL", "bSOL", "XSHIN", "aeroSOL", "edgeSOL", "pSOL", "INF", "Others"], "as": ["series", "share"]},
        {"lookup": "series", "from": {"data": {"name": "seriesOrder"}, "key": "series", "fields": ["rank"]}}
      ],
      "mark": {"type": "bar"},
      "encoding": {
        "x": {
          "field": "week",
          "type": "ordinal",
          "scale": {"paddingInner": 0.17, "paddingOuter": 0.085},
          "axis": {
            "title": null,
            "orient": "bottom",
            "values": ["2024-06-16", "2024-09-22", "2024-12-29", "2025-04-06", "2025-07-13", "2025-10-19", "2026-01-25", "2026-05-03"],
            "labelExpr": "utcFormat(toDate(datum.value), '%-d %b')",
            "labelAngle": 0,
            "ticks": false,
            "tickSize": 0,
            "labelPadding": 15,
            "labelFontSize": 13,
            "labelFontWeight": "bold",
            "labelColor": "#e6e6e6",
            "domainColor": "#55565c",
            "domainWidth": 1.5
          }
        },
        "y": {
          "field": "share",
          "type": "quantitative",
          "stack": "normalize",
          "axis": {
            "title": null,
            "format": ".0%",
            "values": [0, 0.2, 0.4, 0.6, 0.8, 1],
            "grid": false,
            "domain": false,
            "ticks": false,
            "labelPadding": 10,
            "labelFontSize": 12,
            "labelColor": "#c9c9c9"
          }
        },
        "color": {
          "field": "series",
          "type": "nominal",
          "scale": {
            "domain": ["jitoSOL", "dzSOL", "bnSOL", "jupSOL", "mSOL", "fwdSOL", "bbSOL", "dSOL", "vSOL", "jSOL", "bSOL", "XSHIN", "aeroSOL", "edgeSOL", "pSOL", "INF", "Others"],
            "range": ["#5459f5", "#f5900c", "#8f4aa6", "#63b214", "#ee374b", "#00bfa3", "#f07b8c", "#4fbf97", "#8a6ae8", "#dfbd26", "#8e6896", "#47a12c", "#de604f", "#129bab", "#e5958b", "#1ef191", "#65a399"]
          },
          "legend": {
            "title": null,
            "orient": "none",
            "legendX": 1097,
            "legendY": -5,
            "direction": "vertical",
            "symbolType": "M-1,-0.6Q-1,-1,-0.6,-1L0.6,-1Q1,-1,1,-0.6L1,0.6Q1,1,0.6,1L-0.6,1Q-1,1,-1,0.6Z",
            "symbolSize": 100,
            "symbolStrokeWidth": 0,
            "labelFontSize": 13,
            "labelColor": "#d2d2d2",
            "labelOffset": 8,
            "rowPadding": 10.4
          }
        },
        "order": {"field": "rank", "type": "quantitative"}
      }
    },
    {
      "data": {"name": "weeks"},
      "layer": [
        {
          "mark": {"type": "area", "fill": "#1b1c20", "stroke": "#38393f", "strokeWidth": 1},
          "encoding": {
            "x": {
              "field": "week",
              "type": "ordinal",
              "axis": {
                "title": null,
                "orient": "bottom",
                "values": ["2024-06-16", "2024-09-22", "2024-12-29", "2025-04-06", "2025-07-13", "2025-10-19", "2026-01-25", "2026-05-03"],
                "labelExpr": "utcFormat(toDate(datum.value), '%Y')",
                "labelAngle": 0,
                "domain": false,
                "ticks": false,
                "tickSize": 0,
                "labelPadding": 32,
                "labelFontSize": 11,
                "labelColor": "#bdbdbd"
              }
            },
            "y": {"datum": 100, "type": "quantitative", "scale": {"domain": [0, 100], "range": [452, 433]}, "axis": null},
            "y2": {"datum": 0}
          }
        },
        {
          "mark": {"type": "area", "color": "#3a3b41", "line": {"color": "#7983a6", "strokeWidth": 1}},
          "encoding": {
            "x": {"field": "week", "type": "ordinal"},
            "y": {"field": "total", "type": "quantitative", "axis": null}
          }
        },
        {
          "transform": [{"filter": "datum.week >= '2025-06-08'"}],
          "mark": {"type": "area", "color": "#2e3446"},
          "encoding": {
            "x": {"field": "week", "type": "ordinal"},
            "y": {"datum": 100, "type": "quantitative", "axis": null}
          }
        },
        {
          "transform": [{"filter": "datum.week >= '2025-06-08'"}],
          "mark": {"type": "area", "color": "#5a6379", "line": {"color": "#8a94b8", "strokeWidth": 1}},
          "encoding": {
            "x": {"field": "week", "type": "ordinal"},
            "y": {"field": "total", "type": "quantitative", "axis": null}
          }
        },
        {
          "transform": [{"filter": "datum.week >= '2025-06-08'"}],
          "mark": {"type": "area", "color": "#545d7c"},
          "encoding": {
            "x": {"field": "week", "type": "ordinal"},
            "y": {"datum": 132, "type": "quantitative", "axis": null},
            "y2": {"datum": 101}
          }
        }
      ]
    },
    {
      "data": {"values": [{}]},
      "mark": {"type": "text", "x": 532, "y": 186, "text": "Blockworks", "fontSize": 46, "fontWeight": "bold", "color": "#ffffff", "opacity": 0.07, "align": "center", "baseline": "middle"}
    },
    {
      "data": {"values": [{}]},
      "mark": {"type": "rect", "x": -54, "x2": 10, "y": -70, "y2": -46, "fill": "#26272c", "stroke": "#3d3e45", "strokeWidth": 1, "cornerRadius": 5}
    },
    {
      "data": {"values": [{}]},
      "mark": {"type": "text", "x": -22, "y": -58, "text": "% of Total", "fontSize": 11.5, "color": "#dddddd", "align": "center", "baseline": "middle"}
    },
    {
      "data": {"values": [{}]},
      "mark": {"type": "rect", "x": 17, "x2": 56, "y": -70, "y2": -46, "fill": "#26272c", "stroke": "#3d3e45", "strokeWidth": 1, "cornerRadius": 5}
    },
    {
      "data": {"values": [{}]},
      "mark": {"type": "text", "x": 36.5, "y": -58, "text": "SOL", "fontSize": 11.5, "color": "#dddddd", "align": "center", "baseline": "middle"}
    },
    {
      "data": {"values": [{}]},
      "mark": {"type": "rect", "x": 63, "x2": 114, "y": -70, "y2": -46, "fill": "#26272c", "stroke": "#3d3e45", "strokeWidth": 1, "cornerRadius": 5}
    },
    {
      "data": {"values": [{}]},
      "mark": {"type": "text", "x": 88.5, "y": -58, "text": "Weekly", "fontSize": 11.5, "color": "#dddddd", "align": "center", "baseline": "middle"}
    },
    {
      "data": {"values": [{}]},
      "mark": {"type": "rect", "x": 1053, "x2": 1194, "y": -119, "y2": -89, "fill": "#3c3ca3", "cornerRadius": 6}
    },
    {
      "data": {"values": [{}]},
      "mark": {"type": "text", "x": 1123.5, "y": -104, "text": "Source: Blockworks", "fontSize": 13, "fontWeight": "bold", "color": "#e0e0ff", "align": "center", "baseline": "middle"}
    }
  ],
  "resolve": {"scale": {"y": "independent"}, "axis": {"x": "independent"}},
  "config": {
    "font": "Liberation Sans",
    "view": {"stroke": null}
  }
}
